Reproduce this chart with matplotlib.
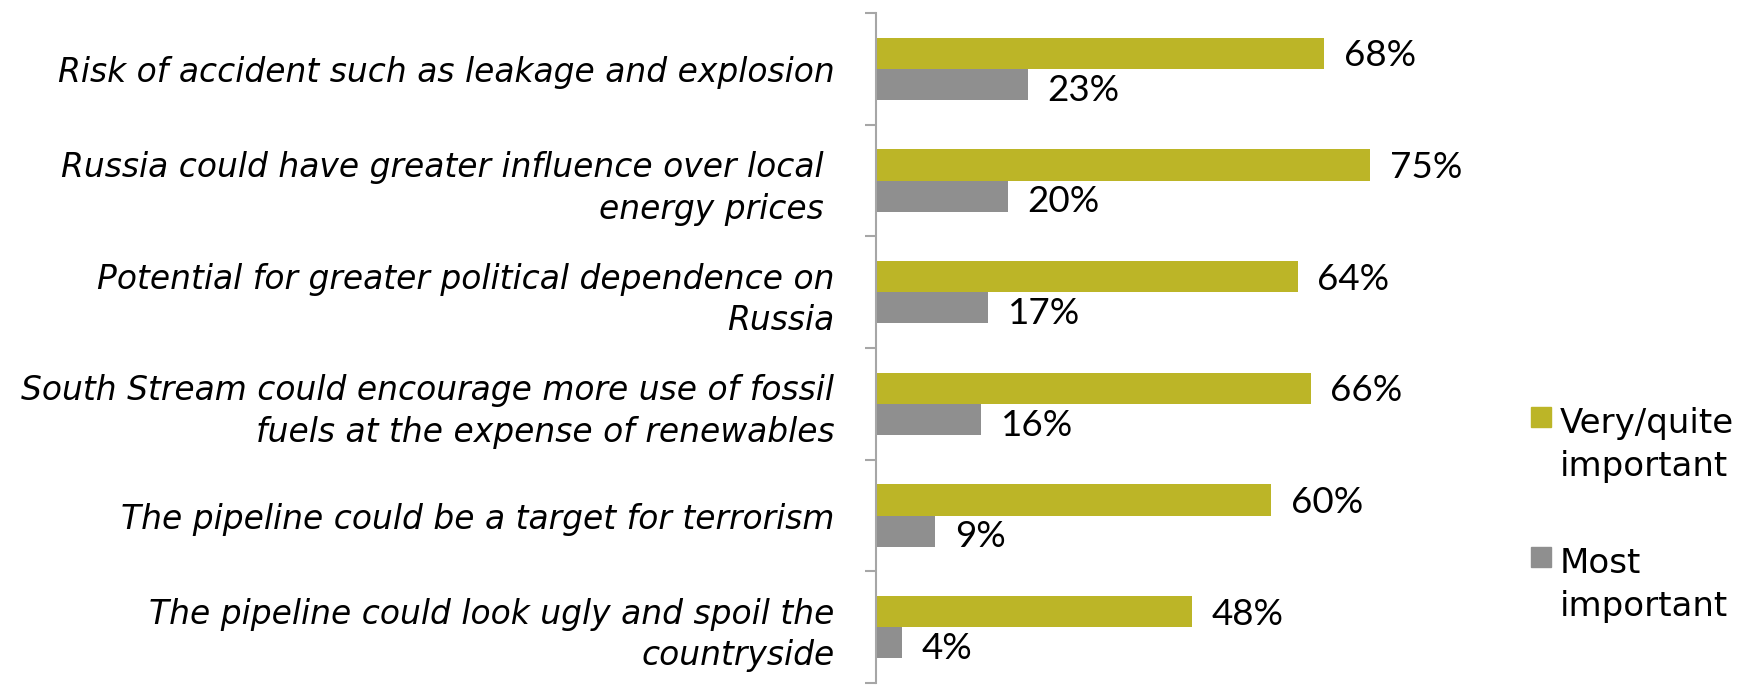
import matplotlib
matplotlib.use("Agg")
import matplotlib.pyplot as plt
from matplotlib.patches import Rectangle

categories = [
    "Risk of accident such as leakage and explosion",
    "Russia could have greater influence over local \nenergy prices ",
    "Potential for greater political dependence on\nRussia",
    "South Stream could encourage more use of fossil\nfuels at the expense of renewables",
    "The pipeline could be a target for terrorism",
    "The pipeline could look ugly and spoil the\ncountryside",
]
very_quite = [68, 75, 64, 66, 60, 48]
most_important = [23, 20, 17, 16, 9, 4]
series_names = ["Very/quite\nimportant", "Most\nimportant"]

GREEN = "#BCB527"
GREY = "#8F8F8F"
AXIS = "#A6A6A6"

W, H = 1749, 692
fig = plt.figure(figsize=(W / 100, H / 100), dpi=100)
x0, x1 = 876, 876 + 80 * 6.59
y_top, y_bot = 13, 683
ax = fig.add_axes([x0 / W, 1 - y_bot / H, (x1 - x0) / W, (y_bot - y_top) / H])

n = len(categories)
pos = list(range(n))
bh = 0.28
ax.barh([p - bh / 2 for p in pos], very_quite, height=bh, color=GREEN)
ax.barh([p + bh / 2 for p in pos], most_important, height=bh, color=GREY)

for p, v in zip(pos, very_quite):
    ax.annotate(f"{v}%", (v, p - bh / 2), xytext=(14, -2), textcoords="offset points",
                va="center", ha="left", fontsize=26.5, family="Lato")
for p, v in zip(pos, most_important):
    ax.annotate(f"{v}%", (v, p + bh / 2), xytext=(14, -4), textcoords="offset points",
                va="center", ha="left", fontsize=26.5, family="Lato")

ax.set_xlim(0, 80)
ax.set_ylim(n - 0.5, -0.5)
ax.set_xticks([])
ax.set_yticks([p - 0.5 for p in range(n + 1)])
ax.set_yticklabels([])
ax.tick_params(axis="y", which="major", length=8, width=1.5, color=AXIS)
ax.set_yticks(pos, minor=True)
ax.set_yticklabels(categories, minor=True, fontsize=23.7, family="DejaVu Sans", style="italic",
                   ha="right", multialignment="right", linespacing=1.33)
ax.tick_params(axis="y", which="minor", length=0, pad=30)
for s in ["top", "right", "bottom"]:
    ax.spines[s].set_visible(False)
ax.spines["left"].set_color(AXIS)
ax.spines["left"].set_linewidth(1.5)

# legend (square aligned with first text line)
leg_items = [(GREEN, series_names[0], 433), (GREY, series_names[1], 573)]
for color, label, base in leg_items:
    fig.add_artist(Rectangle((1531 / W, 1 - (base - 6) / H), 20 / W, 20 / H,
                             transform=fig.transFigure, color=color))
    for i, line in enumerate(label.split("\n")):
        fig.text(1560 / W, 1 - (base + 43 * i) / H, line, fontsize=24.5,
                 family="DejaVu Sans", va="baseline", ha="left")

fig.savefig("out.png", dpi=100)
